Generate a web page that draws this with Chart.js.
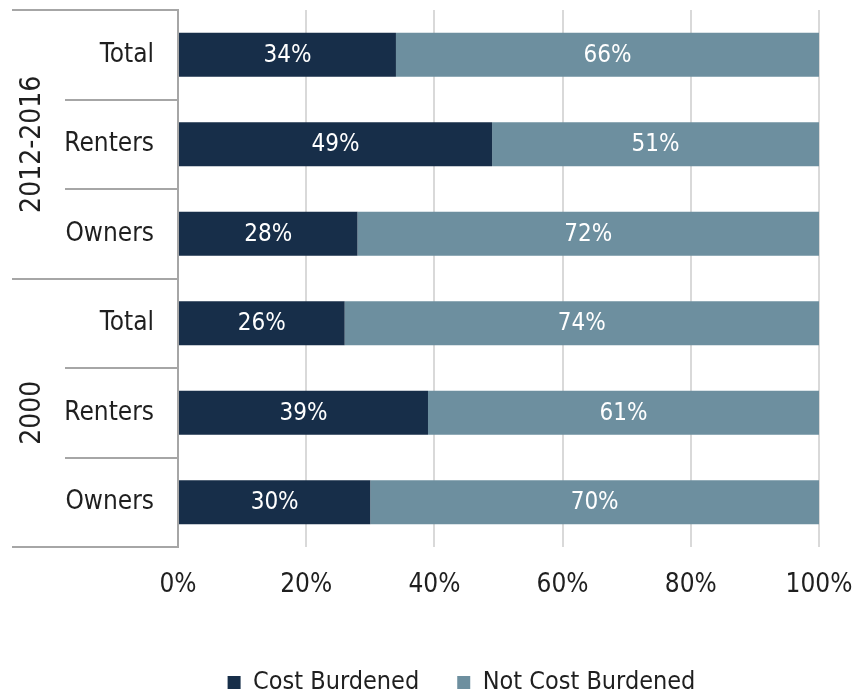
<!DOCTYPE html>
<html lang="en">
<head>
    <meta charset="UTF-8">
    <title>Cost Burden</title>
    <script src="https://cdn.jsdelivr.net/npm/chart.js"></script>
    <style>
        html, body { margin: 0; padding: 0; background: #fff; }
        .chart-box { position: relative; width: 861px; height: 694px; }
    </style>
</head>
<body>
    <div class="chart-box">
        <canvas id="burdenChart"></canvas>
    </div>

    <script>
        // Dados
        const categories = ['Total', 'Renters', 'Owners', 'Total', 'Renters', 'Owners'];
        const groups = ['2012-2016', '2000'];
        const groupSize = 3;
        const costBurdened = [34, 49, 28, 26, 39, 30];
        const notCostBurdened = [66, 51, 72, 74, 61, 70];
        const xTicks = [0, 20, 40, 60, 80, 100];

        const FONT = "'DejaVu Sans Condensed', 'Liberation Sans', sans-serif";
        const DARK = '#172E49';
        const LIGHT = '#6D8F9F';
        const TEXT = '#1f1f1f';

        // rótulos brancos dentro das barras
        const barLabels = {
            id: 'barLabels',
            afterDatasetsDraw(chart) {
                const ctx = chart.ctx;
                ctx.save();
                ctx.font = '24px ' + FONT;
                ctx.fillStyle = '#ffffff';
                ctx.textAlign = 'center';
                ctx.textBaseline = 'middle';
                chart.data.datasets.forEach((ds, di) => {
                    chart.getDatasetMeta(di).data.forEach((bar, i) => {
                        ctx.fillText(ds.data[i] + '%', (bar.x + bar.base) / 2, bar.y + 1);
                    });
                });
                ctx.restore();
            }
        };

        // eixo de dois níveis: linhas separadoras e anos girados
        const groupAxis = {
            id: 'groupAxis',
            afterDraw(chart) {
                const ctx = chart.ctx;
                const y = chart.scales.y;
                const left = chart.chartArea.left;
                const step = y.getPixelForValue(1) - y.getPixelForValue(0);
                ctx.save();
                ctx.strokeStyle = '#a6a6a6';
                ctx.lineWidth = 2;
                for (let i = 0; i <= categories.length; i++) {
                    const py = Math.round(y.getPixelForValue(i) - step / 2);
                    const x0 = i % groupSize === 0 ? 12 : 65;
                    ctx.beginPath();
                    ctx.moveTo(x0, py);
                    ctx.lineTo(left, py);
                    ctx.stroke();
                }
                ctx.font = '28px ' + FONT;
                ctx.fillStyle = TEXT;
                ctx.textAlign = 'center';
                ctx.textBaseline = 'middle';
                groups.forEach((g, gi) => {
                    const mid = y.getPixelForValue(gi * groupSize + (groupSize - 1) / 2);
                    ctx.save();
                    ctx.translate(33, mid);
                    ctx.rotate(-Math.PI / 2);
                    ctx.fillText(g, 0, 0);
                    ctx.restore();
                });
                ctx.restore();
            }
        };

        // a legenda fica colada na borda de baixo, um pouco à direita
        const legendShift = {
            id: 'legendShift',
            afterLayout(chart) {
                const lg = chart.legend;
                const dx = 52, dy = 11;
                lg.top += dy;
                lg.bottom += dy;
                lg.left += dx;
                lg.right += dx;
            }
        };

        const noPad = (s) => {
            s.paddingTop = 0;
            s.paddingBottom = 0;
            s.paddingLeft = 0;
            s.paddingRight = 0;
        };

        new Chart(document.getElementById('burdenChart'), {
            type: 'bar',
            data: {
                labels: categories,
                datasets: [
                    { label: 'Cost Burdened', data: costBurdened, backgroundColor: DARK },
                    { label: 'Not Cost Burdened', data: notCostBurdened, backgroundColor: LIGHT }
                ]
            },
            options: {
                indexAxis: 'y',
                responsive: true,
                maintainAspectRatio: false,
                animation: false,
                categoryPercentage: 1,
                barPercentage: 0.49,
                layout: { padding: { top: 10, right: 42, left: 0, bottom: 0 } },
                scales: {
                    x: {
                        stacked: true,
                        min: 0,
                        max: 100,
                        afterBuildTicks: (s) => { s.ticks = xTicks.map(v => ({ value: v })); },
                        afterFit: (s) => { s.height = 74; noPad(s); },
                        grid: { color: '#d9d9d9', lineWidth: 2, drawTicks: false },
                        border: { display: false },
                        ticks: {
                            padding: 23,
                            color: TEXT,
                            font: { family: FONT, size: 26 },
                            callback: (v) => v + '%'
                        }
                    },
                    y: {
                        stacked: true,
                        afterFit: (s) => { s.width = 178; noPad(s); },
                        grid: { display: false, drawTicks: false },
                        border: { display: true, color: '#a6a6a6', width: 2 },
                        ticks: {
                            padding: 24,
                            color: TEXT,
                            font: { family: FONT, size: 26 }
                        }
                    }
                },
                plugins: {
                    legend: {
                        position: 'bottom',
                        labels: {
                            boxWidth: 13,
                            boxHeight: 13,
                            padding: 38,
                            color: TEXT,
                            font: { family: FONT, size: 25 }
                        }
                    },
                    tooltip: { enabled: false }
                }
            },
            plugins: [barLabels, groupAxis, legendShift]
        });
    </script>
</body>
</html>
